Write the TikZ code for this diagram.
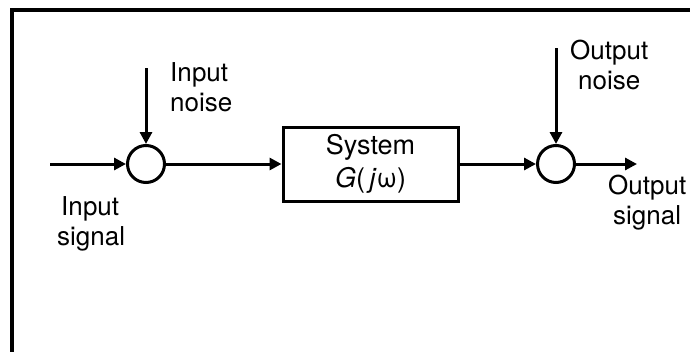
\documentclass[tikz,border=0pt]{standalone}
\usepackage{fontspec}
\setmainfont{TeX Gyre Heros}
\usetikzlibrary{arrows.meta}
\begin{document}
\begin{tikzpicture}[x=1pt,y=-1pt,
  sumnode/.style={circle,draw,line width=3pt,minimum size=37pt,inner sep=0pt},
  sysbox/.style={draw,line width=3pt,minimum width=175pt,minimum height=74pt,inner sep=0pt,font=\fontsize{27}{33}\selectfont,align=center},
  lbl/.style={font=\fontsize{26}{30}\selectfont,align=left,inner sep=0pt,anchor=north west},
  sig/.style={line width=3pt,-{Triangle[length=12pt,width=12pt]}}]
\useasboundingbox (0,0) rectangle (700,351);
\draw[line width=3.3pt] (12,352) -- (12,10) -- (690,10);
\node[sumnode] (s1) at (146,164) {};
\node[sumnode] (s2) at (556,164) {};
\node[sysbox] (sys) at (370.5,164) {System\\\textit{G}(\,\textit{j}ω)};
\coordinate (in) at (50,164);
\coordinate (nin) at (146,68);
\coordinate (nout) at (556,48);
\coordinate (out) at (637,164);
\draw[sig] (in) -- (s1);
\draw[sig] (nin) -- (s1);
\draw[sig] (s1) -- (sys);
\draw[sig] (sys) -- (s2);
\draw[sig] (nout) -- (s2);
\draw[sig] (s2) -- (out);
\node[lbl] (lin) at (170,62) {Input\\noise};
\node[lbl] (lsig) at (57,196) {\hspace*{4pt}Input\\signal};
\node[lbl] (lon) at (570,40) {Output\\\hspace*{8pt}noise};
\node[lbl] (los) at (608,175) {Output\\\hspace*{5pt}signal};
\end{tikzpicture}
\end{document}
